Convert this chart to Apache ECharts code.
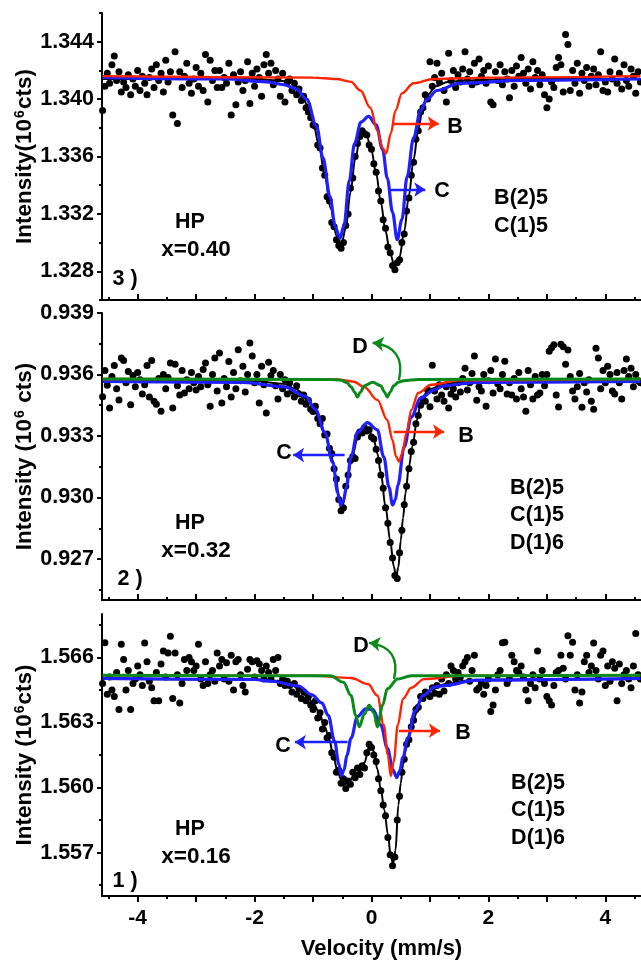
<!DOCTYPE html>
<html>
<head>
<meta charset="utf-8">
<script src="https://cdn.jsdelivr.net/npm/echarts@6/dist/echarts.min.js"></script>
<style>
html, body { margin: 0; padding: 0; background: #fff; }
#chart { width: 641px; height: 961px; }
</style>
</head>
<body>
<div id="chart"></div>
<script>
// Velocity channels (mm/s), shared by the three spectra
const velocity = [
-4.60,-4.56,-4.52,-4.48,-4.44,-4.40,-4.36,-4.32,-4.28,-4.24,
-4.20,-4.16,-4.12,-4.08,-4.04,-4.00,-3.96,-3.92,-3.88,-3.84,
-3.80,-3.76,-3.72,-3.68,-3.64,-3.60,-3.56,-3.52,-3.48,-3.44,
-3.40,-3.36,-3.32,-3.28,-3.24,-3.20,-3.16,-3.12,-3.08,-3.04,
-3.00,-2.96,-2.92,-2.88,-2.84,-2.80,-2.76,-2.72,-2.68,-2.64,
-2.60,-2.56,-2.52,-2.48,-2.44,-2.40,-2.36,-2.32,-2.28,-2.24,
-2.20,-2.16,-2.12,-2.08,-2.04,-2.00,-1.96,-1.92,-1.88,-1.84,
-1.80,-1.76,-1.72,-1.68,-1.64,-1.60,-1.56,-1.52,-1.48,-1.44,
-1.40,-1.36,-1.32,-1.28,-1.24,-1.20,-1.16,-1.12,-1.08,-1.04,
-1.00,-0.96,-0.92,-0.88,-0.84,-0.80,-0.76,-0.72,-0.68,-0.64,
-0.60,-0.56,-0.52,-0.48,-0.44,-0.40,-0.36,-0.32,-0.28,-0.24,
-0.20,-0.16,-0.12,-0.08,-0.04,0.00,0.04,0.08,0.12,0.16,
0.20,0.24,0.28,0.32,0.36,0.40,0.44,0.48,0.52,0.56,
0.60,0.64,0.68,0.72,0.76,0.80,0.84,0.88,0.92,0.96,
1.00,1.04,1.08,1.12,1.16,1.20,1.24,1.28,1.32,1.36,
1.40,1.44,1.48,1.52,1.56,1.60,1.64,1.68,1.72,1.76,
1.80,1.84,1.88,1.92,1.96,2.00,2.04,2.08,2.12,2.16,
2.20,2.24,2.28,2.32,2.36,2.40,2.44,2.48,2.52,2.56,
2.60,2.64,2.68,2.72,2.76,2.80,2.84,2.88,2.92,2.96,
3.00,3.04,3.08,3.12,3.16,3.20,3.24,3.28,3.32,3.36,
3.40,3.44,3.48,3.52,3.56,3.60,3.64,3.68,3.72,3.76,
3.80,3.84,3.88,3.92,3.96,4.00,4.04,4.08,4.12,4.16,
4.20,4.24,4.28,4.32,4.36,4.40,4.44,4.48,4.52,4.56,
4.60
];

// Measured intensity (10^6 cts), HP x=0.40
const counts040 = [
1.3392,1.3409,1.3418,1.3411,1.3424,1.3430,1.3413,1.3419,1.3405,1.3412,
1.3408,1.3417,1.3403,1.3414,1.3409,1.3420,1.3406,1.3416,1.3411,1.3403,
1.3415,1.3421,1.3408,1.3424,1.3413,1.3418,1.3405,1.3427,1.3412,1.3419,
1.3389,1.3433,1.3383,1.3419,1.3408,1.3416,1.3425,1.3411,1.3404,1.3414,
1.3422,1.3409,1.3418,1.3406,1.3431,1.3398,1.3427,1.3413,1.3420,1.3408,
1.3420,1.3408,1.3415,1.3411,1.3425,1.3389,1.3417,1.3396,1.3412,1.3419,
1.3406,1.3413,1.3426,1.3397,1.3418,1.3409,1.3421,1.3415,1.3402,1.3424,
1.3431,1.3418,1.3425,1.3410,1.3420,1.3414,1.3402,1.3418,1.3398,1.3412,
1.3414,1.3406,1.3411,1.3403,1.3407,1.3399,1.3402,1.3394,1.3391,1.3387,
1.3382,1.3381,1.3368,1.3366,1.3352,1.3347,1.3332,1.3329,1.3314,1.3311,
1.3302,1.3298,1.3296,1.3300,1.3312,1.3320,1.3338,1.3345,1.3360,1.3369,
1.3374,1.3378,1.3376,1.3375,1.3368,1.3365,1.3355,1.3349,1.3336,1.3329,
1.3316,1.3310,1.3297,1.3293,1.3284,1.3281,1.3286,1.3288,1.3300,1.3306,
1.3322,1.3331,1.3347,1.3356,1.3372,1.3378,1.3391,1.3394,1.3403,1.3400,
1.3426,1.3409,1.3415,1.3425,1.3412,1.3418,1.3406,1.3398,1.3432,1.3413,
1.3420,1.3408,1.3417,1.3412,1.3421,1.3433,1.3414,1.3419,1.3410,1.3425,
1.3412,1.3428,1.3416,1.3420,1.3411,1.3423,1.3398,1.3396,1.3419,1.3413,
1.3424,1.3410,1.3419,1.3414,1.3401,1.3420,1.3409,1.3423,1.3416,1.3429,
1.3418,1.3411,1.3421,1.3407,1.3426,1.3415,1.3420,1.3410,1.3417,1.3403,
1.3394,1.3400,1.3412,1.3408,1.3422,1.3429,1.3424,1.3405,1.3445,1.3438,
1.3406,1.3420,1.3411,1.3425,1.3404,1.3418,1.3413,1.3422,1.3409,1.3416,
1.3421,1.3410,1.3417,1.3433,1.3406,1.3412,1.3405,1.3419,1.3414,1.3428,
1.3411,1.3418,1.3407,1.3424,1.3413,1.3409,1.3421,1.3416,1.3404,1.3419,
1.3412
];

// Measured intensity (10^6 cts), HP x=0.32
const counts032 = [
0.93492,0.93620,0.93548,0.93437,0.93590,0.93644,0.93530,0.93476,0.93681,0.93668,
0.93560,0.93615,0.93453,0.93595,0.93540,0.93610,0.93575,0.93505,0.93550,0.93644,
0.93490,0.93668,0.93470,0.93455,0.93580,0.93421,0.93600,0.93530,0.93585,0.93656,
0.93437,0.93650,0.93545,0.93500,0.93620,0.93510,0.93575,0.93530,0.93610,0.93560,
0.93525,0.93590,0.93540,0.93625,0.93656,0.93550,0.93445,0.93600,0.93681,0.93520,
0.93705,0.93461,0.93580,0.93540,0.93664,0.93490,0.93610,0.93530,0.93721,0.93570,
0.93640,0.93515,0.93600,0.93754,0.93690,0.93560,0.93600,0.93461,0.93640,0.93550,
0.93412,0.93660,0.93595,0.93620,0.93545,0.93480,0.93600,0.93530,0.93575,0.93505,
0.93560,0.93520,0.93490,0.93545,0.93505,0.93470,0.93500,0.93455,0.93475,0.93430,
0.93420,0.93445,0.93385,0.93360,0.93385,0.93305,0.93310,0.93240,0.93215,0.93140,
0.93090,0.92990,0.92935,0.92950,0.93055,0.93110,0.93180,0.93200,0.93190,0.93295,
0.93320,0.93315,0.93340,0.93325,0.93330,0.93295,0.93285,0.93235,0.93180,0.93110,
0.93045,0.92950,0.92875,0.92780,0.92705,0.92620,0.92605,0.92730,0.92840,0.92965,
0.93055,0.93140,0.93225,0.93270,0.93360,0.93400,0.93450,0.93480,0.93470,0.93525,
0.93443,0.93645,0.93520,0.93480,0.93550,0.93500,0.93470,0.93540,0.93437,0.93505,
0.93530,0.93490,0.93560,0.93515,0.93580,0.93630,0.93525,0.93560,0.93605,0.93690,
0.93475,0.93540,0.93520,0.93600,0.93445,0.93570,0.93620,0.93510,0.93676,0.93555,
0.93530,0.93600,0.93665,0.93505,0.93560,0.93500,0.93580,0.93480,0.93610,0.93530,
0.93490,0.93421,0.93620,0.93550,0.93480,0.93590,0.93500,0.93510,0.93600,0.93545,
0.93600,0.93713,0.93730,0.93745,0.93500,0.93441,0.93748,0.93735,0.93650,0.93720,
0.93590,0.93520,0.93480,0.93540,0.93605,0.93440,0.93560,0.93515,0.93575,0.93470,
0.93430,0.93728,0.93680,0.93530,0.93620,0.93560,0.93640,0.93600,0.93520,0.93505,
0.93610,0.93560,0.93480,0.93620,0.93676,0.93590,0.93630,0.93540,0.93600,0.93570,
0.93560
];

// Measured intensity (10^6 cts), HP x=0.16
const counts016 = [
1.56480,1.56667,1.56430,1.56510,1.56450,1.56420,1.56530,1.56360,1.56660,1.56590,
1.56450,1.56540,1.56360,1.56480,1.56500,1.56560,1.56520,1.56470,1.56666,1.56580,
1.56490,1.56460,1.56400,1.56530,1.56400,1.56570,1.56630,1.56510,1.56620,1.56697,
1.56410,1.56620,1.56520,1.56390,1.56480,1.56590,1.56540,1.56600,1.56580,1.56540,
1.56560,1.56660,1.56500,1.56470,1.56580,1.56480,1.56520,1.56540,1.56490,1.56620,
1.56560,1.56590,1.56500,1.56575,1.56490,1.56610,1.56450,1.56580,1.56590,1.56520,
1.56470,1.56440,1.56545,1.56590,1.56580,1.56510,1.56585,1.56570,1.56540,1.56500,
1.56560,1.56530,1.56500,1.56590,1.56540,1.56600,1.56480,1.56500,1.56470,1.56490,
1.56470,1.56440,1.56480,1.56430,1.56455,1.56410,1.56440,1.56400,1.56420,1.56380,
1.56360,1.56400,1.56320,1.56345,1.56270,1.56300,1.56230,1.56240,1.56160,1.56140,
1.56070,1.56080,1.56020,1.56040,1.55995,1.56030,1.56015,1.56070,1.56045,1.56090,
1.56060,1.56100,1.56090,1.56160,1.56200,1.56185,1.56150,1.56120,1.56040,1.55985,
1.55920,1.55870,1.55770,1.55690,1.55640,1.55680,1.55850,1.55960,1.56070,1.56130,
1.56200,1.56220,1.56280,1.56310,1.56360,1.56370,1.56420,1.56410,1.56440,1.56430,
1.56420,1.56460,1.56435,1.56470,1.56430,1.56500,1.56445,1.56520,1.56480,1.56560,
1.56540,1.56500,1.56530,1.56510,1.56560,1.56580,1.56600,1.56490,1.56540,1.56610,
1.56450,1.56460,1.56480,1.56430,1.56470,1.56500,1.56350,1.56380,1.56450,1.56520,
1.56540,1.56667,1.56670,1.56480,1.56500,1.56610,1.56580,1.56540,1.56530,1.56560,
1.56510,1.56450,1.56400,1.56480,1.56520,1.56460,1.56630,1.56500,1.56540,1.56480,
1.56420,1.56400,1.56380,1.56470,1.56530,1.56540,1.56610,1.56550,1.56500,1.56700,
1.56610,1.56670,1.56450,1.56520,1.56390,1.56440,1.56580,1.56610,1.56530,1.56560,
1.56666,1.56540,1.56500,1.56610,1.56630,1.56470,1.56560,1.56490,1.56580,1.56550,
1.56400,1.56570,1.56480,1.56520,1.56540,1.56500,1.56460,1.56560,1.56710,1.56520,
1.56500
];

// Fitted subspectra, [velocity, intensity] — x=0.40
const fitTotal040 = [[-4.6,1.3414],[-2.0,1.3414],[-1.6,1.3413],[-1.4,1.3412],[-1.3,1.3409],[-1.2,1.3404],[-1.1,1.3396],[-1.0,1.3384],[-0.9,1.3368],[-0.8,1.3347],[-0.7,1.3324],[-0.6,1.3305],[-0.52,1.3298],[-0.44,1.3310],[-0.36,1.3335],[-0.28,1.3358],[-0.2,1.3372],[-0.14,1.3377],[-0.08,1.3374],[0,1.3364],[0.08,1.3348],[0.16,1.3328],[0.24,1.3308],[0.32,1.3292],[0.4,1.3283],[0.48,1.3290],[0.56,1.3308],[0.64,1.3333],[0.72,1.3358],[0.8,1.3379],[0.88,1.3395],[0.96,1.3403],[1.1,1.3409],[1.3,1.3412],[1.6,1.3413],[2.5,1.3414],[4.6,1.3414]];
const fitC040 = [[-4.6,1.3415],[-2.5,1.3414],[-1.8,1.3412],[-1.5,1.3410],[-1.28,1.3407],[-1.11,1.3400],[-0.94,1.3381],[-0.83,1.3359],[-0.71,1.3332],[-0.62,1.3311],[-0.54,1.3303],[-0.47,1.3312],[-0.38,1.3343],[-0.29,1.3369],[-0.18,1.3384],[-0.05,1.3388],[0.08,1.3382],[0.19,1.3365],[0.27,1.3345],[0.36,1.3321],[0.44,1.3302],[0.52,1.3316],[0.61,1.3346],[0.72,1.3373],[0.84,1.3392],[0.95,1.3400],[1.12,1.3406],[1.5,1.3411],[2.6,1.3413],[4.6,1.3414]];
const fitB040 = [[-4.6,1.3416],[-1.0,1.3415],[-0.6,1.3414],[-0.35,1.3412],[-0.19,1.3406],[-0.02,1.3394],[0.1,1.3378],[0.19,1.3366],[0.25,1.3362],[0.33,1.3376],[0.41,1.3392],[0.52,1.3404],[0.72,1.3411],[1.06,1.3414],[2.0,1.3415],[4.6,1.3416]];

// Fitted subspectra — x=0.32
const fitTotal032 = [[-4.6,0.93570],[-2.0,0.93568],[-1.5,0.93555],[-1.3,0.93530],[-1.1,0.93480],[-1.0,0.93440],[-0.9,0.93390],[-0.8,0.93320],[-0.72,0.93250],[-0.66,0.93180],[-0.6,0.93080],[-0.56,0.93000],[-0.52,0.92945],[-0.48,0.92970],[-0.44,0.93040],[-0.4,0.93120],[-0.32,0.93210],[-0.24,0.93290],[-0.16,0.93325],[-0.1,0.93332],[-0.04,0.93322],[0.04,0.93282],[0.1,0.93215],[0.16,0.93120],[0.24,0.92955],[0.32,0.92790],[0.38,0.92665],[0.42,0.92615],[0.46,0.92660],[0.5,0.92790],[0.54,0.92900],[0.58,0.93020],[0.64,0.93150],[0.7,0.93250],[0.78,0.93380],[0.84,0.93460],[0.92,0.93505],[1.02,0.93530],[1.2,0.93550],[1.5,0.93562],[2.2,0.93568],[4.6,0.93570]];
const fitC032 = [[-4.6,0.93566],[-2.2,0.93562],[-1.49,0.93540],[-1.13,0.93494],[-0.96,0.93430],[-0.8,0.93318],[-0.66,0.93170],[-0.58,0.93025],[-0.53,0.92963],[-0.48,0.92985],[-0.43,0.93050],[-0.35,0.93198],[-0.24,0.93318],[-0.07,0.93365],[0.1,0.93330],[0.21,0.93198],[0.3,0.93050],[0.36,0.92963],[0.41,0.92990],[0.45,0.93060],[0.56,0.93247],[0.68,0.93393],[0.84,0.93485],[1.07,0.93524],[1.23,0.93545],[1.8,0.93562],[4.6,0.93566]];
const fitB032 = [[-4.6,0.93578],[-0.6,0.93576],[-0.3,0.93565],[-0.12,0.93538],[0.1,0.93476],[0.27,0.93378],[0.36,0.93280],[0.42,0.93200],[0.47,0.93175],[0.52,0.93210],[0.6,0.93315],[0.68,0.93427],[0.8,0.93510],[1.02,0.93550],[1.5,0.93572],[4.6,0.93578]];
const fitD032 = [[-4.6,0.93578],[-0.7,0.93576],[-0.52,0.93572],[-0.42,0.93560],[-0.35,0.93540],[-0.29,0.93515],[-0.24,0.93490],[-0.19,0.93515],[-0.12,0.93545],[0.02,0.93562],[0.16,0.93545],[0.22,0.93515],[0.27,0.93490],[0.32,0.93515],[0.38,0.93545],[0.46,0.93562],[0.55,0.93570],[0.8,0.93576],[4.6,0.93578]];

// Fitted subspectra — x=0.16
const fitTotal016 = [[-4.6,1.56500],[-2.0,1.56498],[-1.6,1.56492],[-1.4,1.56480],[-1.25,1.56455],[-1.1,1.56420],[-1.0,1.56390],[-0.9,1.56350],[-0.8,1.56280],[-0.72,1.56220],[-0.65,1.56140],[-0.58,1.56075],[-0.52,1.56035],[-0.45,1.56015],[-0.38,1.56030],[-0.29,1.56060],[-0.2,1.56075],[-0.12,1.56115],[-0.04,1.56190],[0.0,1.56195],[0.04,1.56165],[0.1,1.56085],[0.16,1.55990],[0.22,1.55895],[0.28,1.55785],[0.33,1.55680],[0.37,1.55650],[0.41,1.55710],[0.46,1.55920],[0.5,1.56020],[0.54,1.56106],[0.58,1.56170],[0.64,1.56235],[0.72,1.56318],[0.84,1.56405],[0.95,1.56440],[1.1,1.56465],[1.3,1.56480],[1.6,1.56492],[2.2,1.56498],[4.6,1.56500]];
const fitC016 = [[-4.6,1.56503],[-2.0,1.56498],[-1.71,1.56490],[-1.25,1.56468],[-1.02,1.56427],[-0.85,1.56390],[-0.74,1.56333],[-0.63,1.56212],[-0.56,1.56110],[-0.52,1.56055],[-0.47,1.56080],[-0.42,1.56150],[-0.35,1.56227],[-0.24,1.56327],[-0.1,1.56363],[0.02,1.56360],[0.16,1.56288],[0.27,1.56182],[0.37,1.56080],[0.43,1.56046],[0.48,1.56075],[0.54,1.56140],[0.62,1.56227],[0.74,1.56350],[0.88,1.56424],[1.08,1.56463],[1.23,1.56470],[1.8,1.56495],[4.6,1.56503]];
const fitB016 = [[-4.6,1.56518],[-1.0,1.56515],[-0.35,1.56505],[-0.06,1.56477],[0.1,1.56424],[0.21,1.56288],[0.28,1.56151],[0.33,1.56053],[0.38,1.56120],[0.45,1.56288],[0.54,1.56410],[0.68,1.56460],[0.9,1.56500],[1.5,1.56515],[4.6,1.56518]];
const fitD016 = [[-4.6,1.56518],[-0.7,1.56515],[-0.48,1.56485],[-0.35,1.56424],[-0.27,1.56333],[-0.21,1.56280],[-0.12,1.56340],[-0.04,1.56379],[0.04,1.56345],[0.1,1.56280],[0.19,1.56379],[0.27,1.56455],[0.45,1.56500],[0.68,1.56515],[4.6,1.56518]];

// Axis ticks and labels
const velMajorTicks = [-4, -3, -2, -1, 0, 1, 2, 3, 4];
const velMinorTicks = [-4.5, -3.5, -2.5, -1.5, -0.5, 0.5, 1.5, 2.5, 3.5, 4.5];
const velLabels = [-4, -2, 0, 2, 4];
const yLabels040 = [1.328, 1.332, 1.336, 1.340, 1.344];
const yMinor040 = [1.326, 1.330, 1.334, 1.338, 1.342, 1.346];
const yLabels032 = [0.927, 0.930, 0.933, 0.936, 0.939];
const yMinor032 = [0.9255, 0.9285, 0.9315, 0.9345, 0.9375];
const yLabels016 = [1.557, 1.560, 1.563, 1.566];
const yMinor016 = [1.5555, 1.5585, 1.5615, 1.5645, 1.5675];

const FONT = "'Liberation Sans', Arial, Helvetica, sans-serif";
const BLUE = '#1e1eff', RED = '#ff2400', GREEN = '#0a8a1a', BLACK = '#000';

const panels = [
  { grid: { left: 102, top: 13, width: 544, height: 287 }, yMin: 1.326, yMax: 1.346,
    yLabels: yLabels040, yMinor: yMinor040, yName: 'Intensity(10{sup|6}cts)',
    counts: counts040, total: fitTotal040, C: fitC040, B: fitB040, D: null,
    arrows: [
      { from: [0.36, 1.3383], to: [1.15, 1.3383], color: RED },
      { from: [0.32, 1.3337], to: [0.92, 1.3337], color: BLUE }
    ] },
  { grid: { left: 102, top: 313, width: 544, height: 287 }, yMin: 0.925, yMax: 0.939,
    yLabels: yLabels032, yMinor: yMinor032, yName: 'Intensity (10{sup|6} cts)',
    counts: counts032, total: fitTotal032, C: fitC032, B: fitB032, D: fitD032,
    arrows: [
      { from: [0.38, 0.93321], to: [1.24, 0.93321], color: RED },
      { from: [-0.46, 0.93207], to: [-1.34, 0.93207], color: BLUE },
      { from: [0.47, 0.93573], to: [0.02, 0.93755], color: GREEN, curve: -0.55 }
    ] },
  { grid: { left: 102, top: 614, width: 544, height: 286 }, yMin: 1.555, yMax: 1.568,
    yLabels: yLabels016, yMinor: yMinor016, yName: 'Intensity (10{sup|6}cts)',
    counts: counts016, total: fitTotal016, C: fitC016, B: fitB016, D: fitD016,
    arrows: [
      { from: [0.47, 1.56262], to: [1.17, 1.56262], color: RED },
      { from: [-0.41, 1.56209], to: [-1.31, 1.56209], color: BLUE },
      { from: [0.385, 1.5650], to: [-0.04, 1.56667], color: GREEN, curve: -0.55 }
    ] }
];

const tickLine = { color: BLACK, width: 2 };
const grids = [], xAxes = [], yAxes = [], series = [];

panels.forEach((p, k) => {
  const isBottom = k === panels.length - 1;
  grids.push(p.grid);
  // velocity axis: major ticks (with labels on the bottom panel)
  xAxes.push({
    type: 'value', gridIndex: k, position: 'bottom', min: -4.61, max: 4.61,
    axisLine: { onZero: false, lineStyle: { color: BLACK, width: 2 } },
    axisTick: { inside: !isBottom, length: 6, lineStyle: tickLine, customValues: velMajorTicks },
    axisLabel: { show: isBottom, customValues: velLabels, margin: 12, color: BLACK,
      fontSize: 21, fontWeight: 'bold', fontFamily: FONT, formatter: v => String(v) },
    splitLine: { show: false },
    name: isBottom ? 'Velocity (mm/s)' : '', nameLocation: 'middle', nameGap: 42,
    nameMoveOverlap: false,
    nameTextStyle: { color: BLACK, fontSize: 22, fontWeight: 'bold', fontFamily: FONT, padding: [0, 0, 0, 20] }
  });
  // velocity axis: minor ticks
  xAxes.push({
    type: 'value', gridIndex: k, position: 'bottom', min: -4.61, max: 4.61,
    axisLine: { show: false, onZero: false },
    axisTick: { inside: !isBottom, length: 3, lineStyle: tickLine, customValues: velMinorTicks },
    axisLabel: { show: false }, splitLine: { show: false }
  });
  // intensity axis: labelled major ticks
  yAxes.push({
    type: 'value', gridIndex: k, position: 'left', min: p.yMin, max: p.yMax,
    axisLine: { show: true, onZero: false, lineStyle: { color: BLACK, width: 2 } },
    axisTick: { show: true, length: 5, lineStyle: tickLine, customValues: p.yLabels },
    axisLabel: { customValues: p.yLabels, margin: 8, color: BLACK, fontSize: 21.5,
      fontWeight: 'bold', fontFamily: FONT, formatter: v => v.toFixed(3) },
    splitLine: { show: false },
    name: p.yName, nameLocation: 'middle', nameGap: 65, nameMoveOverlap: false,
    nameTextStyle: { color: BLACK, fontSize: 22.5, fontWeight: 'bold', fontFamily: FONT,
      rich: { sup: { fontSize: 14, fontWeight: 'bold', fontFamily: FONT, color: BLACK,
        verticalAlign: 'bottom', padding: [0, 1, 10, 1] } } }
  });
  // intensity axis: minor ticks
  yAxes.push({
    type: 'value', gridIndex: k, position: 'left', min: p.yMin, max: p.yMax,
    axisLine: { show: false, onZero: false },
    axisTick: { show: true, length: 3, lineStyle: tickLine, customValues: p.yMinor },
    axisLabel: { show: false }, splitLine: { show: false }
  });

  const xi = 2 * k, yi = 2 * k;
  series.push({
    type: 'scatter', xAxisIndex: xi, yAxisIndex: yi, symbol: 'circle', symbolSize: 7,
    itemStyle: { color: BLACK, opacity: 1 }, z: 2, silent: true,
    data: velocity.map((v, i) => [v, p.counts[i]])
  });
  const fitLine = (data, color, width, z) => ({
    type: 'line', xAxisIndex: xi, yAxisIndex: yi, data, showSymbol: false, symbol: 'none',
    smooth: 0.35, smoothMonotone: 'x', lineStyle: { color, width, opacity: 1 }, z, silent: true
  });
  series.push(fitLine(p.total, BLACK, 2, 3));
  series.push(fitLine(p.C, BLUE, 3.2, 4));
  series.push(fitLine(p.B, RED, 2.4, 5));
  if (p.D) series.push(fitLine(p.D, GREEN, 3, 6));
  series.push({
    type: 'lines', coordinateSystem: 'cartesian2d', xAxisIndex: xi, yAxisIndex: yi,
    symbol: ['none', 'arrow'], symbolSize: 11, z: 10, silent: true,
    data: p.arrows.map(a => ({ coords: [a.from, a.to],
      lineStyle: { color: a.color, width: 2.4, opacity: 1, curveness: a.curve || 0 } }))
  });
});

// Annotation texts
const txt = (x, y, text, size) => ({
  type: 'text', x, y, z: 100, silent: true,
  style: { text, fill: BLACK, fontSize: size || 21.5, fontWeight: 'bold', fontFamily: FONT,
    align: 'center', verticalAlign: 'middle' }
});
const annotations = [
  txt(455, 127, 'B'), txt(442, 191, 'C'), txt(190, 222, 'HP'), txt(196, 250, 'x=0.40', 22.5),
  txt(125, 279, '3 )'), txt(521, 198, 'B(2)5'), txt(521, 226, 'C(1)5'),
  txt(360, 347, 'D'), txt(466, 436, 'B'), txt(284, 453, 'C'), txt(190, 523, 'HP'),
  txt(196, 551, 'x=0.32', 22.5), txt(130, 579, '2 )'), txt(537, 488, 'B(2)5'),
  txt(537, 515, 'C(1)5'), txt(537, 543, 'D(1)6'),
  txt(361, 646, 'D'), txt(463, 733, 'B'), txt(283, 746, 'C'), txt(190, 829, 'HP'),
  txt(196, 857, 'x=0.16', 22.5), txt(125, 881, '1 )'), txt(538, 783, 'B(2)5'),
  txt(538, 810, 'C(1)5'), txt(538, 838, 'D(1)6')
];

const chart = echarts.init(document.getElementById('chart'), null, { renderer: 'canvas' });
chart.setOption({
  backgroundColor: '#fff',
  animation: false,
  grid: grids,
  xAxis: xAxes,
  yAxis: yAxes,
  series,
  graphic: annotations
});
</script>
</body>
</html>
